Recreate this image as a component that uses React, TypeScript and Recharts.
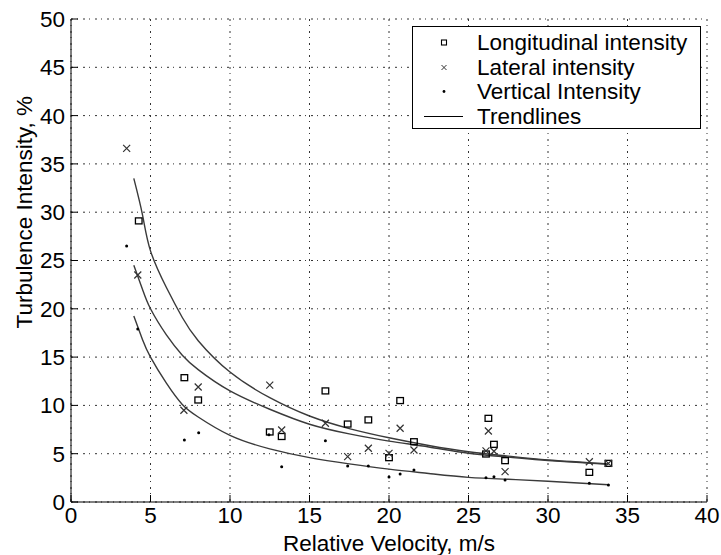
import React from "react";
import { ComposedChart, Line, Scatter, XAxis, YAxis, CartesianGrid, Legend } from "recharts";

const FONT = "'Liberation Sans', Arial, Helvetica, sans-serif";

// measured intensities (%) vs relative velocity (m/s)
const longVel = [4.26, 7.13, 8.0, 12.5, 13.25, 16.0, 17.4, 18.7, 20.0, 20.7, 21.57, 26.1, 26.25, 26.6, 27.3, 32.6, 33.8];
const longTI = [29.1, 12.87, 10.56, 7.25, 6.78, 11.5, 8.07, 8.5, 4.59, 10.5, 6.24, 4.97, 8.66, 5.97, 4.28, 3.07, 4.0];

const latVel = [3.5, 4.2, 7.1, 8.0, 12.5, 13.25, 16.0, 17.4, 18.7, 20.0, 20.7, 21.57, 26.1, 26.25, 26.6, 27.3, 32.6, 33.8];
const latTI = [36.6, 23.5, 9.5, 11.9, 12.1, 7.45, 8.15, 4.7, 5.56, 5.04, 7.63, 5.38, 5.3, 7.35, 5.25, 3.14, 4.17, 4.0];

const vertVel = [3.5, 4.2, 7.13, 8.03, 12.45, 13.25, 16.0, 17.4, 18.7, 20.0, 20.7, 21.57, 26.1, 26.6, 27.3, 32.6, 33.8];
const vertTI = [26.5, 17.9, 6.42, 7.17, 6.95, 3.65, 6.35, 3.73, 3.73, 2.6, 2.9, 3.31, 2.52, 2.62, 2.28, 1.93, 1.76];

// trendline points
const trendVel = [3.95, 4.5, 5, 6, 7, 8, 10, 12.5, 15, 17.5, 20, 22.5, 25, 27.5, 30, 33.8];
const longTrend = [33.5, 29.7, 26.0, 22.2, 19.1, 16.7, 13.45, 10.8, 8.9, 7.6, 6.65, 5.85, 5.2, 4.75, 4.35, 3.95];
const latTrend = [24.5, 22.0, 20.0, 17.3, 15.2, 13.7, 11.5, 9.6, 8.05, 7.05, 6.3, 5.7, 5.05, 4.65, 4.3, 3.9];
const vertTrend = [19.25, 16.8, 15.0, 12.3, 10.1, 8.8, 6.9, 5.5, 4.6, 3.95, 3.4, 2.95, 2.55, 2.35, 2.15, 1.78];

const xTicks = [0, 5, 10, 15, 20, 25, 30, 35, 40];
const yTicks = [0, 5, 10, 15, 20, 25, 30, 35, 40, 45, 50];

const legendLabels = ["Longitudinal intensity", "Lateral intensity", "Vertical Intensity", "Trendlines"];

const toPoints = (vel: number[], ti: number[]) => vel.map((v, i) => ({ v, ti: ti[i] }));

const longData = toPoints(longVel, longTI);
const latData = toPoints(latVel, latTI);
const vertData = toPoints(vertVel, vertTI);
const longTrendData = toPoints(trendVel, longTrend);
const latTrendData = toPoints(trendVel, latTrend);
const vertTrendData = toPoints(trendVel, vertTrend);

const Square = (p: any) => (
  <rect x={p.cx - 3.3} y={p.cy - 3} width={6.6} height={6} fill="none" stroke="#000" strokeWidth={1.3} />
);

const Cross = (p: any) => (
  <path
    d={`M${p.cx - 3.5},${p.cy - 3.5}L${p.cx + 3.5},${p.cy + 3.5}M${p.cx + 3.5},${p.cy - 3.5}L${p.cx - 3.5},${p.cy + 3.5}`}
    stroke="#333"
    strokeWidth={1.2}
  />
);

const Dot = (p: any) => <circle cx={p.cx} cy={p.cy} r={1.5} fill="#000" />;

const legendMark = (i: number) => {
  if (i === 0) return <rect x={28.5} y={10} width={5} height={5} fill="none" stroke="#000" strokeWidth={1.1} />;
  if (i === 1)
    return <path d="M28.5,10L33.5,15M33.5,10L28.5,15" stroke="#333" strokeWidth={1} />;
  if (i === 2) return <circle cx={31} cy={12.5} r={1.4} fill="#000" />;
  return <line x1={11} y1={12.5} x2={50} y2={12.5} stroke="#000" strokeWidth={1.2} />;
};

const LegendBox = () => (
  <div
    style={{
      position: "relative",
      width: 289,
      height: 103,
      boxSizing: "border-box",
      border: "1px solid #000",
      background: "#fff",
      fontFamily: FONT,
      fontSize: 22.5,
      color: "#000",
    }}
  >
    {legendLabels.map((label, i) => (
      <div key={label} style={{ position: "absolute", left: 0, top: 3 + i * 24.6, height: 25, width: 287 }}>
        <svg width={60} height={25} style={{ position: "absolute", left: 0, top: 0 }}>
          {legendMark(i)}
        </svg>
        <span style={{ position: "absolute", left: 64, top: 0, lineHeight: "25px", whiteSpace: "nowrap" }}>{label}</span>
      </div>
    ))}
  </div>
);

const tickStyle = { fill: "#000", fontSize: 22.5, fontFamily: FONT };

export default function App() {
  return (
    <div style={{ position: "absolute", left: 0, top: 0, width: 721, height: 555, background: "#fff" }}>
      <ComposedChart width={721} height={555} margin={{ top: 19, right: 14, bottom: 13, left: 11 }}>
        <CartesianGrid stroke="#333" strokeWidth={1} strokeDasharray="2 4 1 5" />
        <XAxis
          dataKey="v"
          type="number"
          domain={[0, 40]}
          ticks={xTicks}
          height={40}
          allowDataOverflow
          stroke="#000"
          tickSize={-7}
          tickMargin={12}
          tick={tickStyle}
          label={{
            content: ({ viewBox }: any) => (
              <text
                x={viewBox.x + viewBox.width / 2}
                y={viewBox.y + 49}
                textAnchor="middle"
                fontFamily={FONT}
                fontSize={22.5}
                fill="#000"
              >
                Relative Velocity, m/s
              </text>
            ),
          }}
        />
        <XAxis
          xAxisId="top"
          orientation="top"
          type="number"
          domain={[0, 40]}
          ticks={xTicks}
          height={0}
          stroke="#000"
          tickSize={-7}
          tick={false}
        />
        <YAxis
          dataKey="ti"
          type="number"
          domain={[0, 50]}
          ticks={yTicks}
          width={60}
          allowDataOverflow
          stroke="#000"
          tickSize={-7}
          tickMargin={13}
          tick={tickStyle}
          label={{
            content: ({ viewBox }: any) => {
              const cx = viewBox.x + 14;
              const cy = viewBox.y + viewBox.height * 0.4;
              return (
                <text
                  x={cx}
                  y={cy}
                  transform={`rotate(-90 ${cx} ${cy})`}
                  textAnchor="middle"
                  dominantBaseline="central"
                  fontFamily={FONT}
                  fontSize={22.5}
                  fill="#000"
                >
                  Turbulence Intensity, %
                </text>
              );
            },
          }}
        />
        <YAxis
          yAxisId="right"
          orientation="right"
          type="number"
          domain={[0, 50]}
          ticks={yTicks}
          width={0}
          stroke="#000"
          tickSize={-7}
          tick={false}
        />
        <Line data={longTrendData} dataKey="ti" type="natural" stroke="#3a3a3a" strokeWidth={1.4} dot={false} isAnimationActive={false} />
        <Line data={latTrendData} dataKey="ti" type="natural" stroke="#3a3a3a" strokeWidth={1.4} dot={false} isAnimationActive={false} />
        <Line data={vertTrendData} dataKey="ti" type="natural" stroke="#3a3a3a" strokeWidth={1.4} dot={false} isAnimationActive={false} />
        <Scatter data={longData} dataKey="ti" shape={Square} isAnimationActive={false} />
        <Scatter data={latData} dataKey="ti" shape={Cross} isAnimationActive={false} />
        <Scatter data={vertData} dataKey="ti" shape={Dot} isAnimationActive={false} />
        <Legend
          layout="horizontal"
          verticalAlign="middle"
          align="center"
          wrapperStyle={{ position: "absolute", left: 412, top: 26, width: 289, height: 103 }}
          content={() => <LegendBox />}
        />
      </ComposedChart>
    </div>
  );
}
